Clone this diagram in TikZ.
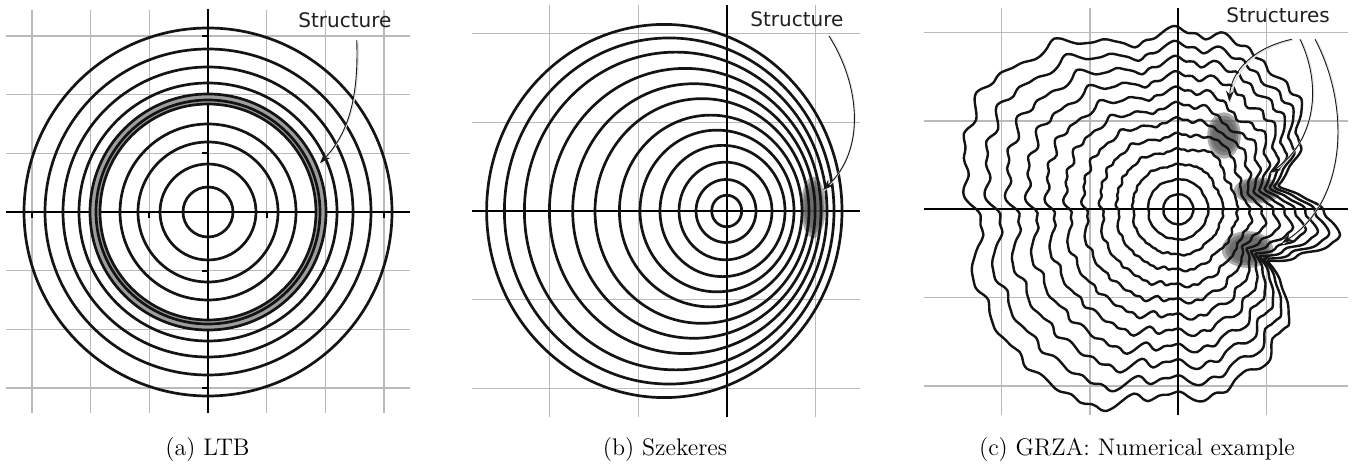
\documentclass[tikz,border=0pt]{standalone}
\usepackage{fontspec}
\newfontfamily\handfont{DejaVu Sans}
\usetikzlibrary{arrows.meta}
\begin{document}
\begin{tikzpicture}[x=0.5pt,y=-0.5pt,
  gridline/.style={draw=black!27, line width=0.75pt},
  axisline/.style={draw=black, line width=1pt},
  ring/.style={draw=black!92, line width=1.35pt},
  contour/.style={draw=black!92, line width=1.2pt, line join=round},
  lbl/.style={font=\handfont\fontsize{10}{12}\selectfont, inner sep=0pt, text=black!88},
  captext/.style={font=\fontsize{12}{14}\selectfont, inner sep=0pt},
  pointer/.style={draw=black!90, line width=0.45pt, -{Stealth[length=5.5pt,width=4pt]}},
  pshadow/.style={draw=black!12, line width=0.9pt, transform canvas={shift={(0.5pt,-0.3pt)}}},
  blob/.style={fill=black!65, fill opacity=0.5}
]
\useasboundingbox (0,0) rectangle (1364,464);

% ---------------- panel (a) ----------------
\coordinate (ca) at (208,212);
\foreach \k in {-3,...,3} {
  \draw[gridline] ({208+58.7*\k},10) -- ({208+58.7*\k},413);
  \draw[gridline] (6,{212+58.7*\k}) -- (410,{212+58.7*\k});
}
\draw[axisline] (6,212) -- (410,212);
\draw[axisline] (208,9) -- (208,413);
\foreach \k in {-3,-1,1,3} {
  \draw[axisline] (202,{212+58.7*\k}) -- (208,{212+58.7*\k});
  \draw[axisline] ({208+58.7*\k},212) -- ({208+58.7*\k},218);
}
\fill[black!38, even odd rule] (ca) circle[radius=118.5] (ca) circle[radius=107.5];
\foreach \r in {25,48,70,88,108,112,118,129,145,163,184}
  \draw[ring] (ca) circle[radius=\r];
\node[lbl, anchor=base west] (lblA) at (298,28) {Structure};
\coordinate (aS) at (356.7,40);
\coordinate (aT) at (320,163);
\draw[pshadow] (aS) .. controls (359,100) and (347,135) .. (aT);
\draw[pointer] (aS) .. controls (359,100) and (347,135) .. (aT);
\node[captext, anchor=base] (capA) at (207.5,455) {(a) LTB};

% ---------------- panel (b) ----------------
\coordinate (cb) at (727,211);
\foreach \k in {-2,-1,1}
  \draw[gridline] ({727+88.7*\k},5) -- ({727+88.7*\k},417);
\foreach \k in {-2,-1,1,2}
  \draw[gridline] (472,{211+88.7*\k}) -- (860,{211+88.7*\k});
\draw[axisline] (472,211) -- (860,211);
\draw[axisline] (727,5) -- (727,417);
\coordinate (blobB) at (813.3,207.3);
\foreach \f in {1.05,0.9,0.75}
  \fill[blob] (blobB) ellipse[x radius={11.7*\f}, y radius={29.3*\f}];
\foreach \cx/\r in {726.7/15,726/30,725.5/46.5,722.5/62.5,717/77,710.7/91.3,702/107,693.9/121.2,685.2/135.8,675.7/151.3,669.2/164.8,664.3/177.7}
  \draw[ring] (\cx,211) ellipse[x radius=\r, y radius={1.05*\r}];
\node[lbl, anchor=base west] (lblB) at (750,26.7) {Structure};
\coordinate (bS) at (829,36);
\coordinate (bT) at (823,190);
\draw[pshadow] (bS) .. controls (860,85) and (866,150) .. (bT);
\draw[pointer] (bS) .. controls (860,85) and (866,150) .. (bT);
\node[captext, anchor=base] (capB) at (665,455) {(b) Szekeres};

% ---------------- panel (c) ----------------
\coordinate (cc) at (1178.3,209.3);
\foreach \k in {-2,-1,1}
  \draw[gridline] ({1178.3+88.3*\k},8) -- ({1178.3+88.3*\k},415);
\foreach \k in {-2,-1,1,2}
  \draw[gridline] (924,{209.3+88.3*\k}) -- (1348,{209.3+88.3*\k});
\draw[axisline] (924,209.3) -- (1348,209.3);
\draw[axisline] (1178.3,8) -- (1178.3,415);
\coordinate (blobC1) at (1224,135.5);
\coordinate (blobC2) at (1257.5,190.5);
\coordinate (blobC3) at (1247.5,249.5);
\foreach \f in {1.05,0.9,0.75} {
  \fill[blob] (blobC1) ellipse[x radius={16*\f}, y radius={22*\f}];
  \fill[blob] (blobC2) ellipse[x radius={22.5*\f}, y radius={12.5*\f}];
  \fill[blob] (blobC3) ellipse[x radius={24.5*\f}, y radius={17.5*\f}];
}
% per-angle table of shape terms
\gdef\tbl{}
\foreach \angv in {-180,-178.5,...,178.6} {
  \pgfmathsetmacro\cA{cos(\angv-15)}
  \pgfmathsetmacro\sA{sin(\angv-15)}
  \pgfmathsetmacro\sqr{1/((\cA*\cA*\cA*\cA*\cA*\cA+\sA*\sA*\sA*\sA*\sA*\sA)^(1/6))}
  \pgfmathsetmacro\vS{0.04-0.19*cos(\angv)-0.03*sin(\angv)+0.3*(1-cos(\angv))*(\sqr-1.13)}
  \pgfmathsetmacro\vM{5*sin(5*\angv+113)+4*sin(9*\angv+40)+3*sin(14*\angv+200)+2.5*sin(21*\angv+300)}
  \pgfmathsetmacro\vJ{(1+0.5*sin(3*\angv+20))*2.2*sin(29*\angv+40)+(1+0.5*cos(4*\angv+70))*1.5*sin(43*\angv+75)+1.2*sin(17*\angv+10)+0.7*sin(61*\angv+5)}
  \pgfmathsetmacro\vA{max(0,1-((\angv-58)/18)*((\angv-58)/18))}
  \pgfmathsetmacro\vA{\vA*\vA}
  \pgfmathsetmacro\vB{max(0,1-abs(\angv-13)/18)}
  \pgfmathsetmacro\vC{max(0,1-abs(\angv+30)/16)}
  \ifx\tbl\empty
    \xdef\tbl{\angv/\vS/\vM/\vJ/\vA/\vB/\vC}
  \else
    \xdef\tbl{\tbl,\angv/\vS/\vM/\vJ/\vA/\vB/\vC}
  \fi
}
\begin{scope}[shift={(1178.3,209.3)}]
  \foreach \i in {1,...,12} {
    \pgfmathsetmacro\ti{(\i/12)*sqrt(\i/12)}
    \pgfmathsetmacro\qi{min(max(\i-2,0),8)/8}
    \gdef\pts{}
    \foreach \angv/\vS/\vM/\vJ/\vA/\vB/\vC in \tbl {
      \pgfmathsetmacro\R{15*\i*(1+\ti*\vS)+\ti*\vM+\qi*\vJ}
      \pgfmathsetmacro\Rc{\R-0.6*\vA*(\R-87)*max(0,1-abs(\R-87)/45)-0.55*\vB*max(\R-58,0)-0.6*\vC*max(\R-65,0)}
      \pgfmathsetmacro\px{\Rc*cos(\angv)}
      \pgfmathsetmacro\py{0-\Rc*sin(\angv)}
      \xdef\pts{\pts (\px,\py)}
    }
    \draw[contour] plot[smooth cycle] coordinates {\pts};
  }
\end{scope}
\node[lbl, anchor=base west] (lblC) at (1226,22.7) {Structures};
\coordinate (cS1) at (1291.7,39.3);
\coordinate (cT1) at (1229.3,101.7);
\coordinate (cS2) at (1300,39.3);
\coordinate (cT2) at (1270,173);
\coordinate (cS3) at (1315,39.3);
\coordinate (cT3) at (1282,243);
\draw[pshadow] (cS1) .. controls (1252,48) and (1231,72) .. (cT1);
\draw[pshadow] (cS2) .. controls (1322,85) and (1316,140) .. (cT2);
\draw[pshadow] (cS3) .. controls (1350,105) and (1348,200) .. (cT3);
\draw[pointer] (cS1) .. controls (1252,48) and (1231,72) .. (cT1);
\draw[pointer] (cS2) .. controls (1322,85) and (1316,140) .. (cT2);
\draw[pointer] (cS3) .. controls (1350,105) and (1348,200) .. (cT3);
\node[captext, anchor=base] (capC) at (1137,455) {(c) GRZA: Numerical example};
\end{tikzpicture}
\end{document}
